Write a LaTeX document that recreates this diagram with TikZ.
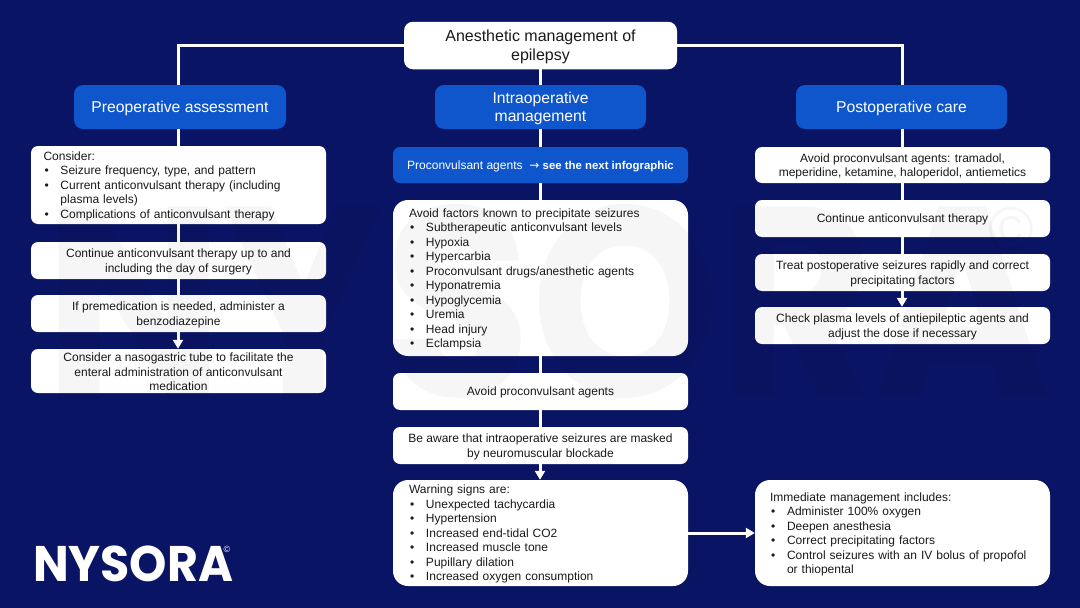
\documentclass[tikz,border=0pt]{standalone}
\usepackage{fontspec}
\setmainfont{Liberation Sans}
\newfontfamily\logofont{Poppins}
\newfontfamily\arrowfont{DejaVu Sans}
\usetikzlibrary{arrows.meta,positioning,calc}
\definecolor{navy}{HTML}{0A1464}
\definecolor{blueb}{HTML}{0F55CC}
\definecolor{ink}{HTML}{1A1A1A}
\tikzset{
 box/.style={fill=white,text=ink,rounded corners=7pt,inner sep=0pt,font=\fontsize{12}{14.5}\selectfont,align=center},
 lbox/.style={box,align=left},
 blue/.style={fill=blueb,text=white,rounded corners=9pt,inner sep=0pt,font=\fontsize{15.7}{18.6}\selectfont,align=center},
 link/.style={draw=white,line width=3pt},
 arr/.style={draw=white,line width=3pt,-{Triangle[length=9pt,width=10pt]}},
 wmark/.style={text=black,text opacity=0.035,inner sep=0pt},
}
\newcommand{\bx}[6]{\node[#1,minimum width=#4pt,minimum height=#5pt] (#2) at (#3) {\rule{0pt}{.92em}#6};}
\newcommand{\itm}[1]{{\par\hangindent=17pt\hangafter=1\noindent\makebox[17pt][l]{\hspace{1pt}•}#1\par}}
\begin{document}
\begin{tikzpicture}[x=1pt,y=-1pt]
\useasboundingbox (0,0) rectangle (1080,608);
\fill[navy] (0,0) rectangle (1080,608);
\coordinate (lx) at (178,0);\coordinate (mx) at (540,0);\coordinate (rx) at (902,0);
\bx{box,rounded corners=9pt,font=\fontsize{16}{18.6}\selectfont}{title}{540.5,45.5}{273}{47.5}{Anesthetic management of\\epilepsy}
\bx{blue}{pre}{180,107}{212}{44}{Preoperative assessment}
\bx{blue}{intra}{540.5,107}{211}{44}{Intraoperative\\management}
\bx{blue}{post}{901.5,107}{211}{44}{Postoperative care}
\bx{lbox,text width=270pt}{l1}{178.5,185}{295}{78}{Consider:\itm{Seizure frequency, type, and pattern}\itm{Current anticonvulsant therapy (including\hfill\break plasma levels)}\itm{Complications of anticonvulsant therapy}}
\bx{box}{l2}{178.5,260.5}{295}{37}{Continue anticonvulsant therapy up to and\\including the day of surgery}
\bx{box}{l3}{178.5,313.5}{295}{37}{If premedication is needed, administer a\\benzodiazepine}
\bx{box}{l4}{178.5,371}{295}{44}{Consider a nasogastric tube to facilitate the\\enteral administration of anticonvulsant\\medication}
\bx{blue,rounded corners=7pt,font=\fontsize{12}{14.5}\selectfont}{m0}{540.5,165}{295}{36}{Proconvulsant agents~~{\arrowfont→} {\fontsize{11.4}{14.5}\selectfont\textbf{see the next infographic}}}
\bx{lbox,rounded corners=15pt,text width=263pt}{m1}{540.5,278}{295}{156}{Avoid factors known to precipitate seizures\itm{Subtherapeutic anticonvulsant levels}\itm{Hypoxia}\itm{Hypercarbia}\itm{Proconvulsant drugs/anesthetic agents}\itm{Hyponatremia}\itm{Hypoglycemia}\itm{Uremia}\itm{Head injury}\itm{Eclampsia}}
\bx{box}{m2}{540.5,391.5}{295}{37}{Avoid proconvulsant agents}
\bx{box}{m3}{540.5,445.5}{295}{37}{Be aware that intraoperative seizures are masked\\by neuromuscular blockade}
\bx{lbox,rounded corners=15pt,text width=263pt}{m4}{540.5,533}{295}{106}{Warning signs are:\itm{Unexpected tachycardia}\itm{Hypertension}\itm{Increased end-tidal CO2}\itm{Increased muscle tone}\itm{Pupillary dilation}\itm{Increased oxygen consumption}}
\bx{box}{r1}{902.5,165}{295}{36}{Avoid proconvulsant agents: tramadol,\\meperidine, ketamine, haloperidol, antiemetics}
\bx{box}{r2}{902.5,218.5}{295}{37}{Continue anticonvulsant therapy}
\bx{box}{r3}{902.5,272.5}{295}{37}{Treat postoperative seizures rapidly and correct\\precipitating factors}
\bx{box}{r4}{902.5,325.5}{295}{37}{Check plasma levels of antiepileptic agents and\\adjust the dose if necessary}
\bx{lbox,rounded corners=15pt,text width=265pt}{r5}{902.5,533}{295}{106}{Immediate management includes:\itm{Administer 100\% oxygen}\itm{Deepen anesthesia}\itm{Correct precipitating factors}\itm{Control seizures with an IV bolus of propofol\hfill\break or thiopental}}
% connectors
\draw[link] (title.west) -| (pre.north -| lx);
\draw[link] (title.east) -| (post.north -| rx);
\draw[link] (title.south -| mx) -- (intra.north -| mx);
\draw[link] (pre.south -| lx) -- (l1.north -| lx);
\draw[link] (l1.south -| lx) -- (l2.north -| lx);
\draw[link] (l2.south -| lx) -- (l3.north -| lx);
\draw[arr] (l3.south -| lx) -- (l4.north -| lx);
\draw[link] (intra.south -| mx) -- (m0.north -| mx);
\draw[link] (m0.south -| mx) -- (m1.north -| mx);
\draw[link] (m1.south -| mx) -- (m2.north -| mx);
\draw[link] (m2.south -| mx) -- (m3.north -| mx);
\draw[arr] (m3.south -| mx) -- (m4.north -| mx);
\draw[arr] (m4.east) -- (r5.west);
\draw[link] (post.south -| rx) -- (r1.north -| rx);
\draw[link] (r1.south -| rx) -- (r2.north -| rx);
\draw[link] (r2.south -| rx) -- (r3.north -| rx);
\draw[arr] (r3.south -| rx) -- (r4.north -| rx);
% watermark
\node[wmark,anchor=base west,xscale=.885,transform shape,font=\logofont\bfseries\fontsize{270}{270}\selectfont] (wm) at (44,396) {NYSORA};
\node[wmark,font=\fontsize{62}{62}\selectfont] (wmc) at (1011,229) {©};
% logo
\node[text=white,inner sep=0pt,anchor=base west,xscale=.95,transform shape,font=\logofont\bfseries\fontsize{50}{50}\selectfont] (logo) at (33,581) {NYSORA};
\node[text=white,inner sep=0pt,font=\fontsize{9}{9}\selectfont] (logoc) at (227,549.5) {©};
\end{tikzpicture}
\end{document}
